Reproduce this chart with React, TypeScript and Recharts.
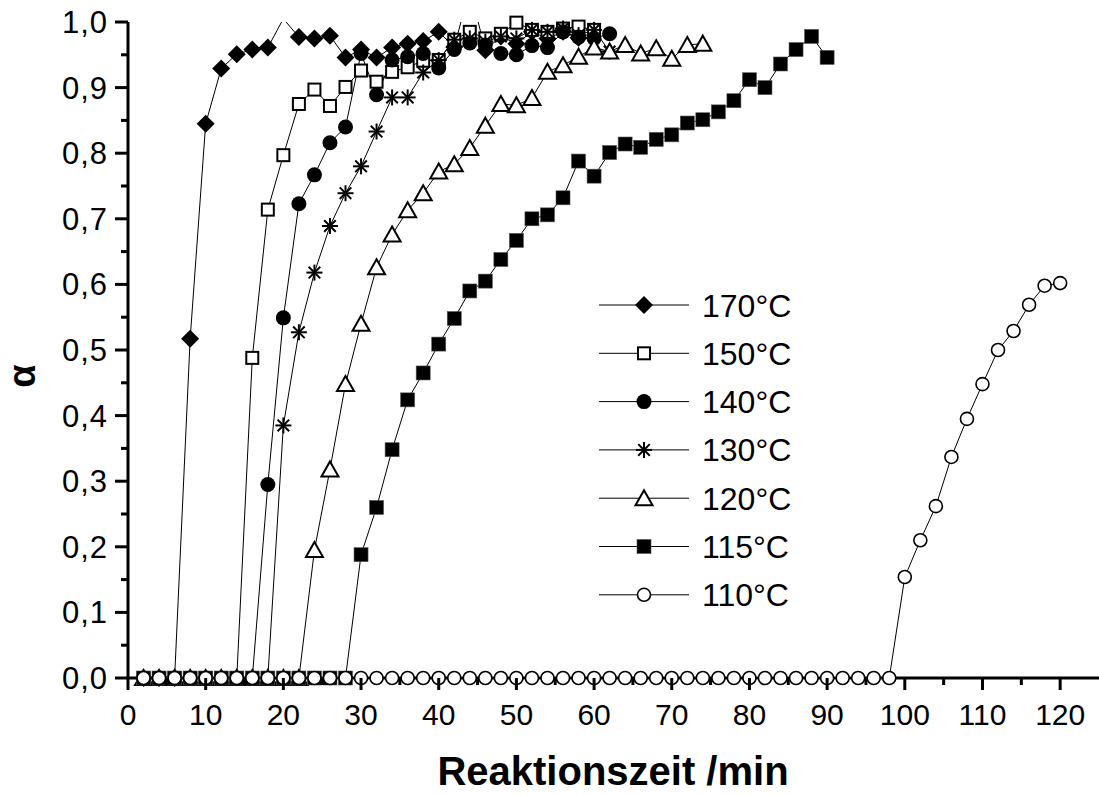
import React from "react";
import { LineChart, Line, XAxis, YAxis, Label } from "recharts";

const FONT = '"Liberation Sans", Arial, Helvetica, sans-serif';

// reaction time in min, sampled every 2 min
const TIME = [
  2, 4, 6, 8, 10, 12, 14, 16, 18, 20, 22, 24, 26, 28, 30, 32, 34, 36, 38, 40,
  42, 44, 46, 48, 50, 52, 54, 56, 58, 60, 62, 64, 66, 68, 70, 72, 74, 76, 78, 80,
  82, 84, 86, 88, 90, 92, 94, 96, 98, 100, 102, 104, 106, 108, 110, 112, 114, 116, 118, 120,
];

// conversion alpha per temperature (starting at t = 2 min)
const A170 = [
  0, 0, 0, 0.517, 0.845, 0.929, 0.951, 0.958, 0.961, 1.005, 0.977, 0.975, 0.979, 0.946, 0.958,
  0.946, 0.961, 0.967, 0.971, 0.985, 0.962, 1.05, 0.957, 0.978, 0.967, 0.985, 0.975, 0.985, 0.976,
];
const A150 = [
  0, 0, 0, 0, 0, 0, 0, 0.488, 0.714, 0.797, 0.875, 0.897, 0.872, 0.901, 0.926, 0.909, 0.924,
  0.931, 0.941, 0.942, 0.973, 0.985, 0.975, 0.982, 0.999, 0.988, 0.985, 0.99, 0.993, 0.988,
];
const A140 = [
  0, 0, 0, 0, 0, 0, 0, 0, 0.295, 0.549, 0.723, 0.767, 0.816, 0.84, 0.952, 0.889, 0.942, 0.947,
  0.952, 0.93, 0.958, 0.968, 0.965, 0.952, 0.95, 0.964, 0.961, 0.985, 0.977, 0.975, 0.982,
];
const A130 = [
  0, 0, 0, 0, 0, 0, 0, 0, 0, 0.385, 0.527, 0.618, 0.689, 0.739, 0.78, 0.833, 0.885, 0.885,
  0.923, 0.942, 0.973, 0.975, 0.97, 0.978, 0.975, 0.988, 0.985, 0.99, 0.98, 0.988, 0.955,
];
const A120 = [
  0, 0, 0, 0, 0, 0, 0, 0, 0, 0, 0, 0.195, 0.318, 0.448, 0.54, 0.626, 0.676, 0.713, 0.739, 0.772,
  0.783, 0.808, 0.842, 0.875, 0.873, 0.884, 0.924, 0.934, 0.947, 0.961, 0.955, 0.965, 0.952,
  0.96, 0.944, 0.965, 0.967,
];
const A115 = [
  0, 0, 0, 0, 0, 0, 0, 0, 0, 0, 0, 0, 0, 0, 0.188, 0.26, 0.348, 0.424, 0.465, 0.509, 0.548,
  0.59, 0.605, 0.638, 0.667, 0.7, 0.706, 0.732, 0.788, 0.765, 0.801, 0.814, 0.809, 0.821, 0.828,
  0.846, 0.851, 0.863, 0.88, 0.912, 0.9, 0.936, 0.958, 0.978, 0.946,
];
const A110 = [
  0, 0, 0, 0, 0, 0, 0, 0, 0, 0, 0, 0, 0, 0, 0, 0, 0, 0, 0, 0, 0, 0, 0, 0, 0, 0, 0, 0, 0, 0, 0,
  0, 0, 0, 0, 0, 0, 0, 0, 0, 0, 0, 0, 0, 0, 0, 0, 0, 0, 0.154, 0.21, 0.262, 0.337, 0.395, 0.448,
  0.5, 0.529, 0.569, 0.598, 0.602,
];

const X_TICKS = [0, 5, 10, 15, 20, 25, 30, 35, 40, 45, 50, 55, 60, 65, 70, 75, 80, 85, 90, 95, 100, 105, 110, 115, 120];
const Y_TICKS = [0, 0.05, 0.1, 0.15, 0.2, 0.25, 0.3, 0.35, 0.4, 0.45, 0.5, 0.55, 0.6, 0.65, 0.7, 0.75, 0.8, 0.85, 0.9, 0.95, 1];

const SERIES = [
  { name: "170°C", values: A170, marker: "diamond" },
  { name: "150°C", values: A150, marker: "openSquare" },
  { name: "140°C", values: A140, marker: "dot" },
  { name: "130°C", values: A130, marker: "star" },
  { name: "120°C", values: A120, marker: "openTriangle" },
  { name: "115°C", values: A115, marker: "square" },
  { name: "110°C", values: A110, marker: "openCircle" },
];

const toPoints = (values: number[]) => values.map((a, i) => ({ t: TIME[i], a }));

function Marker({ kind, cx, cy }: { kind: string; cx: number; cy: number }) {
  if (kind === "diamond") {
    return <polygon points={`${cx},${cy - 9} ${cx + 9},${cy} ${cx},${cy + 9} ${cx - 9},${cy}`} fill="#000" />;
  }
  if (kind === "openSquare") {
    return <rect x={cx - 6} y={cy - 6} width={12} height={12} fill="#fff" stroke="#000" strokeWidth={2} />;
  }
  if (kind === "dot") {
    return <circle cx={cx} cy={cy} r={7.5} fill="#000" />;
  }
  if (kind === "star") {
    const r = 8;
    const d = 5.8;
    return (
      <g stroke="#000" strokeWidth={2}>
        <line x1={cx} y1={cy - r} x2={cx} y2={cy + r} />
        <line x1={cx - r} y1={cy} x2={cx + r} y2={cy} />
        <line x1={cx - d} y1={cy - d} x2={cx + d} y2={cy + d} />
        <line x1={cx - d} y1={cy + d} x2={cx + d} y2={cy - d} />
      </g>
    );
  }
  if (kind === "openTriangle") {
    return (
      <polygon
        points={`${cx},${cy - 8} ${cx + 8.5},${cy + 7} ${cx - 8.5},${cy + 7}`}
        fill="#fff"
        stroke="#000"
        strokeWidth={2}
      />
    );
  }
  if (kind === "square") {
    return <rect x={cx - 7} y={cy - 7} width={14} height={14} fill="#000" stroke="#555" strokeWidth={0.6} />;
  }
  return <circle cx={cx} cy={cy} r={6.5} fill="#fff" stroke="#000" strokeWidth={1.6} />;
}

function XTick(props: any) {
  const { x, y, payload } = props;
  const major = Math.round(payload.value) % 10 === 0;
  return (
    <g>
      <line x1={x} y1={y} x2={x} y2={y + (major ? 12 : 7)} stroke="#000" strokeWidth={3} />
      {major && (
        <text x={x} y={y + 47} textAnchor="middle" fontSize={30} fontFamily={FONT} fill="#000">
          {payload.value}
        </text>
      )}
    </g>
  );
}

function YTick(props: any) {
  const { x, y, payload } = props;
  const major = Math.round(payload.value * 100) % 10 === 0;
  return (
    <g>
      <line x1={x} y1={y} x2={x - (major ? 13 : 7)} y2={y} stroke="#000" strokeWidth={3} />
      {major && (
        <text x={x - 20} y={y + 11} textAnchor="end" fontSize={31} fontFamily={FONT} fill="#000" letterSpacing={1}>
          {payload.value.toFixed(1).replace(".", ",")}
        </text>
      )}
    </g>
  );
}

function LegendBox() {
  return (
    <svg
      width={260}
      height={350}
      style={{ position: "absolute", left: 590, top: 275 }}
    >
      {SERIES.map((s, i) => {
        const cy = 30 + i * 48.3;
        return (
          <g key={s.name}>
            <line x1={9} y1={cy} x2={99} y2={cy} stroke="#000" strokeWidth={1} />
            <Marker kind={s.marker} cx={54} cy={cy} />
            <text x={112} y={cy + 11.5} fontSize={32} fontFamily={FONT} fill="#000">
              {s.name}
            </text>
          </g>
        );
      })}
    </svg>
  );
}

export default function App() {
  return (
    <div style={{ position: "absolute", left: 0, top: 0, width: 1099, height: 795, background: "#fff" }}>
      <LineChart width={1099} height={795} margin={{ top: 22, right: 0, bottom: 0, left: 0 }}>
        <XAxis
          type="number"
          dataKey="t"
          domain={[0, 125]}
          ticks={X_TICKS}
          interval={0}
          height={117}
          tickSize={0}
          tickMargin={0}
          tickLine={false}
          tick={<XTick />}
          axisLine={{ stroke: "#000", strokeWidth: 3 }}
        >
          <Label
            content={() => (
              <text x={613} y={785} textAnchor="middle" fontSize={40} fontWeight="bold" fontFamily={FONT} fill="#000">
                Reaktionszeit /min
              </text>
            )}
          />
        </XAxis>
        <YAxis
          yAxisId="a"
          type="number"
          domain={[0, 1]}
          ticks={Y_TICKS}
          interval={0}
          width={128}
          tickSize={0}
          tickMargin={0}
          tickLine={false}
          tick={<YTick />}
          axisLine={{ stroke: "#000", strokeWidth: 3 }}
        >
          <Label
            content={() => (
              <text
                x={22}
                y={376}
                transform="rotate(-90 22 376)"
                textAnchor="middle"
                dominantBaseline="central"
                fontSize={38}
                fontWeight="bold"
                fontFamily={FONT}
                fill="#000"
              >
                α
              </text>
            )}
          />
        </YAxis>
        <YAxis yAxisId="clip" type="number" domain={[0, 1]} allowDataOverflow hide />
        {SERIES.map((s) => [
          <Line
            key={`${s.name}-line`}
            yAxisId="clip"
            data={toPoints(s.values)}
            dataKey="a"
            type="linear"
            stroke="#000"
            strokeWidth={1}
            dot={false}
            activeDot={false}
            isAnimationActive={false}
          />,
          <Line
            key={`${s.name}-marks`}
            yAxisId="a"
            data={toPoints(s.values).filter((p) => p.a <= 1)}
            dataKey="a"
            type="linear"
            stroke="none"
            dot={(p: any) => <Marker key={`${s.name}-${p.index}`} kind={s.marker} cx={p.cx} cy={p.cy} />}
            activeDot={false}
            isAnimationActive={false}
          />,
        ])}
      </LineChart>
      <LegendBox />
    </div>
  );
}
